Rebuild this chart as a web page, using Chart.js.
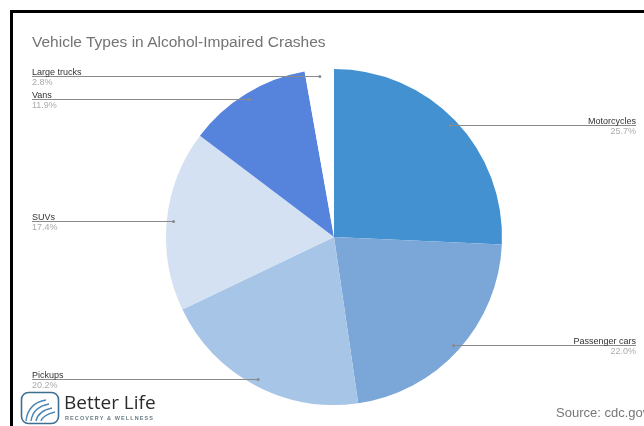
<!DOCTYPE html>
<html>
<head>
<meta charset="utf-8">
<script src="https://cdn.jsdelivr.net/npm/chart.js@4.4.1/dist/chart.umd.min.js"></script>
<style>
  body { margin: 0; background: #fff; font-family: "Liberation Sans", Arial, sans-serif; }
  #wrap { position: relative; width: 644px; height: 426px; overflow: hidden; background: #fff; }
  #frame { position: absolute; left: 10px; top: 10px; width: 700px; height: 500px; border-left: 3px solid #000; border-top: 3px solid #000; }
  #chartBox { position: absolute; left: 0; top: 0; width: 644px; height: 426px; }
  #title { position: absolute; left: 32px; top: 33px; font-size: 15.5px; color: #737373; white-space: nowrap; }
  #source { position: absolute; left: 556px; top: 405px; font-size: 13px; color: #777; white-space: nowrap; }
  #logo { position: absolute; left: 20px; top: 390px; width: 160px; height: 36px; }
  #logo svg { position: absolute; left: 0; top: 1px; }
  #logoName { position: absolute; left: 44px; top: -1px; font-family: "Open Sans", "Liberation Sans", sans-serif; font-size: 19px; color: #2b2b2b; white-space: nowrap; }
  #logoSub { position: absolute; left: 45px; top: 25px; font-size: 5.5px; font-weight: bold; letter-spacing: 1.1px; color: #6a7b86; white-space: nowrap; }
</style>
</head>
<body>
<div id="wrap">
  <div id="chartBox"><canvas id="myChart"></canvas></div>
  <div id="frame"></div>
  <div id="title">Vehicle Types in Alcohol-Impaired Crashes</div>
  <div id="source">Source: cdc.gov</div>
  <div id="logo">
    <svg width="40" height="34" viewBox="0 0 40 34">
      <rect x="1.5" y="1.5" width="37" height="31" rx="7" fill="none" stroke="#3d6f93" stroke-width="1.6"/>
      <path d="M6 30 Q8 12 26 9" fill="none" stroke="#4a86b4" stroke-width="1.4"/>
      <path d="M11 30 Q13 16 29 13" fill="none" stroke="#4a86b4" stroke-width="1.4"/>
      <path d="M16 30 Q18 20 32 17" fill="none" stroke="#4a86b4" stroke-width="1.4"/>
      <path d="M21 30 Q23 24 35 21" fill="none" stroke="#4a86b4" stroke-width="1.4"/>
    </svg>
    <div id="logoName">Better Life</div>
    <div id="logoSub">RECOVERY &amp; WELLNESS</div>
  </div>
</div>
<script>
// data
const categories = ["Motorcycles", "Passenger cars", "Pickups", "SUVs", "Vans", "Large trucks"];
const shares = [25.7, 22.0, 20.2, 17.4, 11.9, 2.8];

const sliceColors = ["#4391d1", "#7aa6d8", "#a7c5e6", "#d3e1f2", "#5684dd", "#ffffff"];

// callout lines with name above and percent below, like the original
const calloutPlugin = {
  id: "callouts",
  afterDraw(chart) {
    const ctx = chart.ctx;
    const meta = chart.getDatasetMeta(0);
    meta.data.forEach((arc, i) => {
      const p = arc.getProps(["x", "y", "startAngle", "endAngle", "outerRadius"], true);
      const mid = (p.startAngle + p.endAngle) / 2;
      const r = p.outerRadius * 0.96;
      const dx = p.x + Math.cos(mid) * r;
      const dy = Math.round(p.y + Math.sin(mid) * r) + 0.5;
      const right = Math.cos(mid) > 0;
      const endX = right ? 636 : 32;

      ctx.save();
      ctx.strokeStyle = "#8a8a8a";
      ctx.lineWidth = 1;
      ctx.beginPath();
      ctx.moveTo(dx, dy);
      ctx.lineTo(endX, dy);
      ctx.stroke();
      ctx.fillStyle = "#8a8a8a";
      ctx.beginPath();
      ctx.arc(dx, dy, 1.5, 0, Math.PI * 2);
      ctx.fill();

      ctx.textAlign = right ? "right" : "left";
      ctx.font = "9px 'Liberation Sans', Arial, sans-serif";
      ctx.textBaseline = "alphabetic";
      ctx.fillStyle = "#333";
      ctx.fillText(categories[i], endX, dy - 2);
      ctx.fillStyle = "#ababab";
      ctx.textBaseline = "top";
      ctx.fillText(shares[i].toFixed(1) + "%", endX, dy + 2);
      ctx.restore();
    });
  },
};

const chart = new Chart(document.querySelector("#myChart"), {
  type: "pie",
  data: {
    labels: categories,
    datasets: [
      {
        data: shares,
        backgroundColor: sliceColors,
        borderWidth: 0,
      },
    ],
  },
  options: {
    responsive: true,
    maintainAspectRatio: false,
    animation: false,
    layout: {
      padding: { left: 166, right: 142, top: 69, bottom: 21 },
    },
    plugins: {
      legend: { display: false },
      tooltip: { enabled: false },
    },
  },
  plugins: [calloutPlugin],
});
</script>
</body>
</html>
